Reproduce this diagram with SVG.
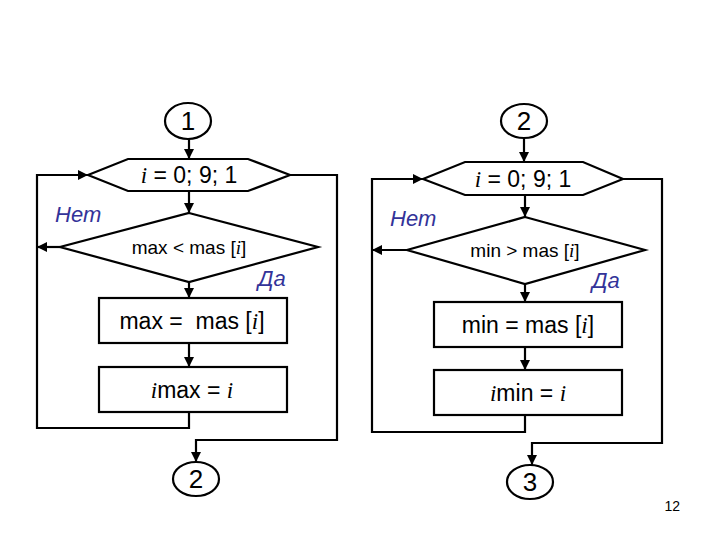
<svg xmlns="http://www.w3.org/2000/svg" width="720" height="540" viewBox="0 0 720 540">
<style>
.s{fill:#fff;stroke:#000;stroke-width:2.2}
.c{fill:none;stroke:#000;stroke-width:2.2}
.t{font-family:"Liberation Sans",Arial,sans-serif;font-size:23px;fill:#000;text-anchor:middle}
.d{font-size:19px}
.n{font-family:"Liberation Sans",Arial,sans-serif;font-size:26px;fill:#000;text-anchor:middle}
.i{font-family:"Liberation Serif","Times New Roman",serif;font-style:italic}
.l{font-family:"Liberation Sans",Arial,sans-serif;font-size:22px;font-style:italic;fill:#333399}
</style>
<defs>
<marker id="a" viewBox="0 0 10 10" refX="10" refY="5" markerWidth="10" markerHeight="10" markerUnits="userSpaceOnUse" orient="auto">
<path d="M0,0 L10,5 L0,10 z" fill="#000"/>
</marker>
</defs>
<rect width="720" height="540" fill="#fff"/>
<g id="connectors">
<path class="c" marker-end="url(#a)" d="M189,139 V159"/>
<path class="c" marker-end="url(#a)" d="M189,191 V213"/>
<path class="c" marker-end="url(#a)" d="M189,282 V298"/>
<path class="c" marker-end="url(#a)" d="M189,343 V367"/>
<path class="c" marker-end="url(#a)" d="M189,412 V428 H37 V175 H88"/>
<path class="c" marker-end="url(#a)" d="M60,247 H37"/>
<path class="c" marker-end="url(#a)" d="M290,175 H337 V440 H196 V462"/>
<path class="c" marker-end="url(#a)" d="M524,139 V162"/>
<path class="c" marker-end="url(#a)" d="M525,195 V217"/>
<path class="c" marker-end="url(#a)" d="M525,284 V302"/>
<path class="c" marker-end="url(#a)" d="M525,347 V370"/>
<path class="c" marker-end="url(#a)" d="M525,415 V432 H372 V179 H423"/>
<path class="c" marker-end="url(#a)" d="M407,250 H372"/>
<path class="c" marker-end="url(#a)" d="M623,179 H662 V443 H532 V465"/>
</g>
<g id="c1"><ellipse class="s" cx="188" cy="121" rx="23" ry="18"/><text class="n" x="188" y="130">1</text></g>
<g id="loop1"><polygon class="s" points="88,175 128,159 248,159 290,175 248,191 128,191"/><text class="t" x="189" y="183"><tspan class="i">i</tspan> = 0; 9; 1</text></g>
<g id="cond1"><polygon class="s" points="189,213 318,247 189,282 60,247"/><text class="t d" x="189" y="254">max &lt; mas [<tspan class="i">i</tspan>]</text></g>
<g id="set1"><rect class="s" x="99" y="298" width="188" height="45"/><text class="t" x="192" y="329">max =&#160; mas [<tspan class="i">i</tspan>]</text></g>
<g id="idx1"><rect class="s" x="99" y="367" width="188" height="45"/><text class="t" x="192" y="398"><tspan class="i">i</tspan>max = <tspan class="i">i</tspan></text></g>
<g id="c2a"><ellipse class="s" cx="196" cy="479" rx="23" ry="17"/><text class="n" x="196" y="488">2</text></g>
<g id="lbl1"><text class="l" x="55" y="222">Нет</text><text class="l" x="258" y="286">Да</text></g>
<g id="c2"><ellipse class="s" cx="524" cy="121" rx="23" ry="17"/><text class="n" x="524" y="130">2</text></g>
<g id="loop2"><polygon class="s" points="423,179 465,162 583,162 623,179 583,195 465,195"/><text class="t" x="523" y="187"><tspan class="i">i</tspan> = 0; 9; 1</text></g>
<g id="cond2"><polygon class="s" points="525,217 645,250 525,284 407,250"/><text class="t d" x="525" y="257">min &gt; mas [<tspan class="i">i</tspan>]</text></g>
<g id="set2"><rect class="s" x="434" y="302" width="188" height="45"/><text class="t" x="528" y="333">min = mas [<tspan class="i">i</tspan>]</text></g>
<g id="idx2"><rect class="s" x="434" y="370" width="188" height="45"/><text class="t" x="528" y="401"><tspan class="i">i</tspan>min = <tspan class="i">i</tspan></text></g>
<g id="c3"><ellipse class="s" cx="530" cy="482" rx="23" ry="17"/><text class="n" x="530" y="491">3</text></g>
<g id="lbl2"><text class="l" x="390" y="226">Нет</text><text class="l" x="592" y="288">Да</text></g>
<text x="680" y="511" font-family="'Liberation Sans',Arial,sans-serif" font-size="14" text-anchor="end">12</text>
</svg>
